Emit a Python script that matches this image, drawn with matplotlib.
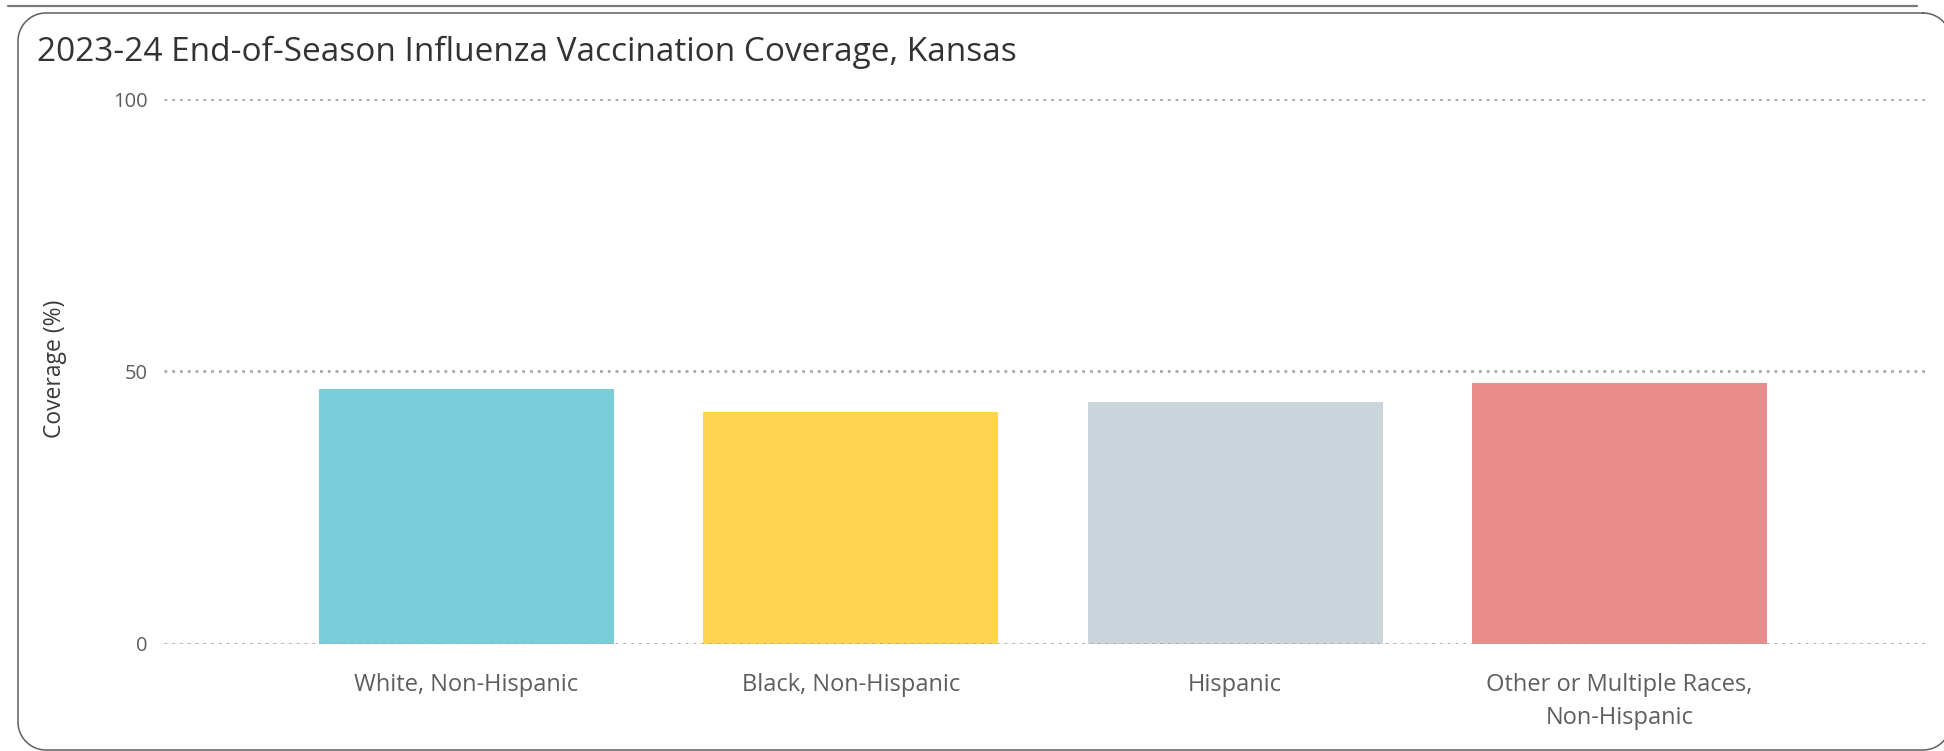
import numpy as np
import matplotlib
matplotlib.use("Agg")
import matplotlib.pyplot as plt

# Coverage data (percent) by race/ethnicity
categories = [
    "White, Non-Hispanic",
    "Black, Non-Hispanic",
    "Hispanic",
    "Other or Multiple Races,\nNon-Hispanic",
]
coverage = [46.7, 42.6, 44.4, 47.8]
bar_colors = ["#7ACDDB", "#FFD44F", "#CBD6DC", "#E98D8C"]
y_ticks = [0, 50, 100]
title = "2023-24 End-of-Season Influenza Vaccination Coverage, Kansas"
y_label = "Coverage (%)"

FONT = ["Open Sans", "DejaVu Sans"]
plt.rcParams["font.family"] = FONT

W, H, DPI = 1944, 751, 100
fig = plt.figure(figsize=(W / DPI, H / DPI), dpi=DPI)
fig.patch.set_facecolor("white")


def rounded_rect(left, top, right, bottom, r, n=24):
    """Outline of a rounded rectangle in pixel coords (y measured from top)."""
    xs, ys = [], []
    corners = [
        (right - r, top + r, -90, 0),      # top-right
        (right - r, bottom - r, 0, 90),    # bottom-right
        (left + r, bottom - r, 90, 180),   # bottom-left
        (left + r, top + r, 180, 270),     # top-left
    ]
    for cx, cy, a0, a1 in corners:
        t = np.radians(np.linspace(a0, a1, n))
        xs.extend(cx + r * np.cos(t))
        ys.extend(cy + r * np.sin(t))
    xs.append(xs[0])
    ys.append(ys[0])
    return np.array(xs), np.array(ys)


# Background layer in pixel units for the card frame and the rule above it
bg = fig.add_axes([0, 0, 1, 1], zorder=-1)
bg.set_xlim(0, W)
bg.set_ylim(H, 0)
bg.axis("off")
bg.plot([8, 1917], [6, 6], color="#7a7a7a", linewidth=1.6, solid_capstyle="round")
fx, fy = rounded_rect(18, 13, 1951, 750, 28)
bg.plot(fx, fy, color="#5f5f5f", linewidth=1.1)

ax = fig.add_axes([164 / W, 1 - 643.5 / H, (1928 - 164) / W, (643.5 - 99.2) / H])
ax.set_facecolor("none")

x = list(range(len(categories)))
ax.bar(x, coverage, width=0.768, color=bar_colors, zorder=1)

ax.set_ylim(0, 100)
ax.set_xlim(-0.787, 3.803)
ax.set_yticks(y_ticks)
ax.set_yticklabels([str(v) for v in y_ticks])
ax.set_xticks(x)
ax.set_xticklabels(categories, linespacing=1.5)

for v in y_ticks:
    ax.axhline(v, color="#A8A8A8", linewidth=2.0, linestyle=(0, (1, 1.8)), zorder=2)

for s in ax.spines.values():
    s.set_visible(False)
ax.tick_params(axis="both", length=0, colors="#605E5C")
ax.tick_params(axis="y", pad=12, labelsize=14.5)
ax.tick_params(axis="x", pad=21, labelsize=17)
for lbl in ax.get_xticklabels() + ax.get_yticklabels():
    lbl.set_color("#605E5C")

fig.text(55 / W, 1 - 369 / H, y_label, rotation=90, ha="center", va="center",
         fontsize=16.5, color="#3a3a3a")
fig.text(37 / W, 1 - 61 / H, title, ha="left", va="baseline",
         fontsize=24, color="#333333")

fig.savefig("out.png", dpi=DPI)
